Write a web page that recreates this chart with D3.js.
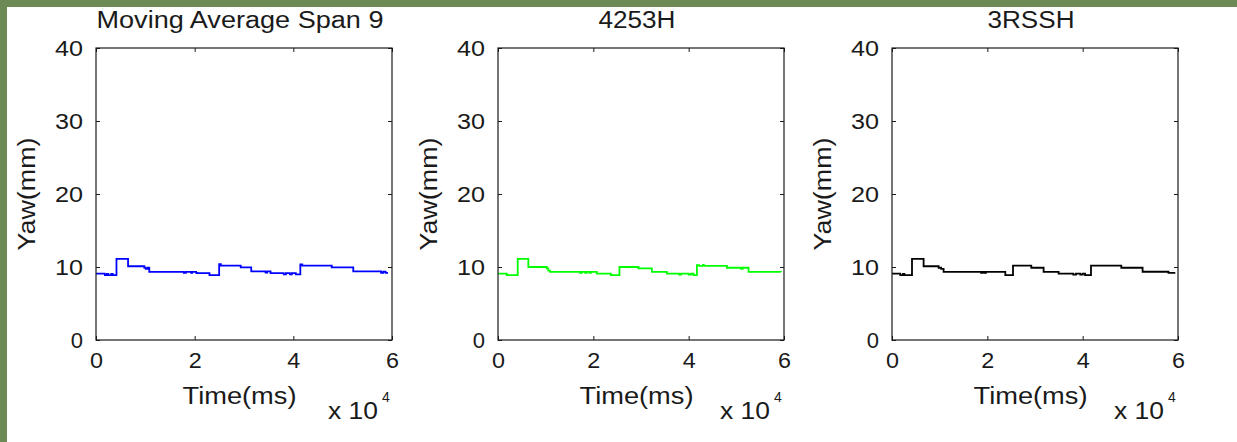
<!DOCTYPE html>
<html>
<head>
<meta charset="utf-8">
<script src="https://cdn.jsdelivr.net/npm/d3@7"></script>
<style>
  html, body { margin: 0; padding: 0; background: #6e8a54; }
  svg { display: block; }
  text { font-family: "Liberation Sans", Arial, sans-serif; fill: #1a1a1a; }
</style>
</head>
<body>
<svg id="chart" width="1237" height="442"></svg>
<script>
// ---- data (time in ms, yaw in mm) ----
const titles = ["Moving Average Span 9", "4253H", "3RSSH"];
const colors = ["#0000ff", "#00ff00", "#000000"];
const xTicks = [0, 20000, 40000, 60000];
const yTicks = [0, 10, 20, 30, 40];
const xLabel = "Time(ms)";
const yLabel = "Yaw(mm)";

const timesMA = [0, 1800, 2200, 2500, 3100, 3400, 4150, 6500, 9800, 10100, 10500, 10800, 17800, 18200, 19300, 19500, 20300, 20500, 23000, 24966, 25300, 29336, 31470, 34369, 34700, 35376, 38054, 38500, 39300, 39700, 40500, 41416, 41800, 47779, 52148, 57785, 58200, 58700, 59195];
const valuesMA = [9.1, 8.9, 9.05, 8.9, 9.05, 8.9, 11.1, 10.1, 9.9, 9.75, 9.9, 9.33, 9.2, 9.33, 9.2, 9.33, 9.2, 9.15, 8.9, 10.4, 10.2, 9.95, 9.4, 9.25, 9.4, 9.15, 9.0, 9.15, 9.0, 9.15, 9.0, 10.35, 10.2, 9.95, 9.4, 9.2, 9.35, 9.2, 9.2];

const times4253H = [0, 1827, 4137, 6363, 10227, 10550, 10920, 17221, 17600, 18300, 18600, 19200, 19500, 20728, 23668, 25474, 29464, 32278, 35428, 38000, 38400, 40000, 40500, 41015, 41729, 42200, 43000, 43200, 48030, 51000, 51300, 52566, 59370];
const values4253H = [9.1, 8.9, 11.1, 10.0, 9.8, 9.5, 9.33, 9.2, 9.33, 9.2, 9.33, 9.2, 9.33, 9.1, 8.9, 10.0, 9.8, 9.33, 9.1, 8.95, 9.1, 8.95, 9.1, 8.9, 10.25, 10.15, 10.3, 10.15, 9.9, 9.75, 9.9, 9.33, 9.3];

const times3RSSH = [0, 1741, 2300, 2600, 4196, 6629, 9776, 10300, 10825, 18700, 19000, 19400, 19700, 23769, 25385, 29224, 31804, 34951, 38035, 38600, 39500, 40000, 40500, 41748, 48105, 52573, 58000, 59434];
const values3RSSH = [9.1, 8.9, 9.05, 8.9, 11.1, 10.1, 9.9, 9.75, 9.33, 9.2, 9.33, 9.2, 9.33, 8.9, 10.2, 9.9, 9.33, 9.1, 8.95, 9.1, 8.95, 9.1, 8.9, 10.2, 9.9, 9.35, 9.2, 9.2];

const seriesTimes = [timesMA, times4253H, times3RSSH];
const seriesValues = [valuesMA, values4253H, values3RSSH];

// ---- layout ----
const panels = [
  { left: 96, right: 392 },
  { left: 498, right: 784 },
  { left: 892, right: 1178 }
];
const plotTop = 48, plotBottom = 340;

const svg = d3.select("#chart");
svg.append("rect").attr("x", 7).attr("y", 7).attr("width", 1230).attr("height", 435).attr("fill", "#ffffff");

panels.forEach((p, i) => {
  const x = d3.scaleLinear().domain([0, 60000]).range([p.left, p.right]);
  const y = d3.scaleLinear().domain([0, 40]).range([plotBottom, plotTop]);
  const g = svg.append("g");
  const cx = (p.left + p.right) / 2;

  // line
  const data = seriesTimes[i].map((t, k) => [t, seriesValues[i][k]]);
  g.append("path")
    .datum(data)
    .attr("fill", "none")
    .attr("stroke", colors[i])
    .attr("stroke-width", 1.8)
    .attr("d", d3.line().x(d => x(d[0])).y(d => y(d[1])).curve(d3.curveStepAfter));

  // axes
  const ax = g.append("g").attr("transform", `translate(0,${plotBottom})`)
    .call(d3.axisBottom(x).tickValues(xTicks).tickFormat(d => d / 10000).tickSizeInner(-4).tickSizeOuter(0).tickPadding(12));
  const ay = g.append("g").attr("transform", `translate(${p.left},0)`)
    .call(d3.axisLeft(y).tickValues(yTicks).tickSizeInner(-4).tickSizeOuter(0).tickPadding(13));
  const at = g.append("g").attr("transform", `translate(0,${plotTop})`)
    .call(d3.axisTop(x).tickValues(xTicks).tickFormat("").tickSizeInner(-4).tickSizeOuter(0));
  const ar = g.append("g").attr("transform", `translate(${p.right},0)`)
    .call(d3.axisRight(y).tickValues(yTicks).tickFormat("").tickSizeInner(-4).tickSizeOuter(0));
  [ax, ay, at, ar].forEach(a => {
    a.select(".domain").remove();
    a.selectAll("line").attr("stroke", "#1a1a1a");
    a.selectAll("text").attr("font-size", 22).attr("fill", "#1a1a1a");
  });
  ay.selectAll("text").filter(d => String(d).length > 1)
    .attr("textLength", 28).attr("lengthAdjust", "spacingAndGlyphs");
  ax.selectAll("text").attr("textLength", 13).attr("lengthAdjust", "spacingAndGlyphs");

  // box
  g.append("rect")
    .attr("x", p.left).attr("y", plotTop)
    .attr("width", p.right - p.left).attr("height", plotBottom - plotTop)
    .attr("fill", "none").attr("stroke", "#1a1a1a").attr("stroke-width", 1.2);

  // title
  const tw = [287, 77, 87][i];
  g.append("text").attr("x", cx - 4).attr("y", 27.5)
    .attr("text-anchor", "middle").attr("font-size", 23)
    .attr("textLength", tw).attr("lengthAdjust", "spacingAndGlyphs")
    .text(titles[i]);

  // x label
  g.append("text").attr("x", cx - 4.5).attr("y", 403.5)
    .attr("text-anchor", "middle").attr("font-size", 23)
    .attr("textLength", 114).attr("lengthAdjust", "spacingAndGlyphs")
    .text(xLabel);

  // exponent
  g.append("text").attr("x", p.right - 64).attr("y", 419)
    .attr("font-size", 23).attr("textLength", 50).attr("lengthAdjust", "spacingAndGlyphs")
    .text("x 10");
  g.append("text").attr("x", p.right - 10).attr("y", 402)
    .attr("font-size", 14)
    .text("4");

  // y label
  g.append("text")
    .attr("transform", `translate(${p.left - 61},${(plotTop + plotBottom) / 2}) rotate(-90)`)
    .attr("text-anchor", "middle").attr("font-size", 23)
    .attr("textLength", 113).attr("lengthAdjust", "spacingAndGlyphs")
    .text(yLabel);
});
</script>
</body>
</html>
